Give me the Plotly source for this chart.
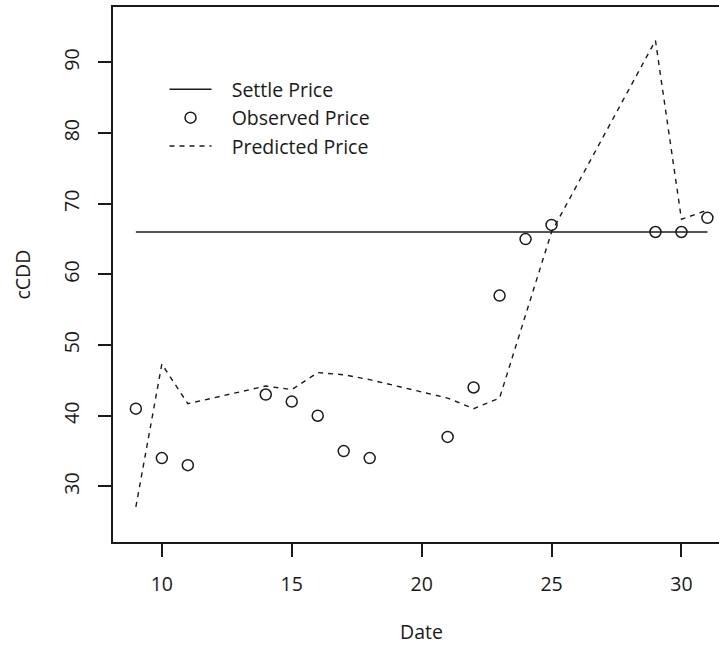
import plotly.graph_objects as go

# ---- data ----
dates = [9, 10, 11, 14, 15, 16, 17, 18, 21, 22, 23, 24, 25, 29, 30, 31]
observed = [41, 34, 33, 43, 42, 40, 35, 34, 37, 44, 57, 65, 67, 66, 66, 68]
predicted = [27.1, 47.3, 41.7, 44.2, 43.7, 46.1, 45.8, 45.1, 42.5, 41.0, 42.5, 54.4, 66.0, 93.1, 67.8, 69.1]
settle_dates = [9, 31]
settle_price = [66, 66]
x_ticks = [10, 15, 20, 25, 30]
y_ticks = [30, 40, 50, 60, 70, 80, 90]
legend_names = ["Settle Price", "Observed Price", "Predicted Price"]

FONT = "Open Sans"
INK = "#1a1a1a"
FS = 19.5
PAD = "\u00a0\u00a0\u00a0"

fig = go.Figure()
fig.add_trace(go.Scatter(x=settle_dates, y=settle_price, mode="lines", name=PAD + legend_names[0],
                         line=dict(color=INK, width=1.4)))
fig.add_trace(go.Scatter(x=dates, y=observed, mode="markers", name=PAD + legend_names[1],
                         marker=dict(symbol="circle-open", size=11, color=INK, line=dict(width=1.5, color=INK))))
fig.add_trace(go.Scatter(x=dates, y=predicted, mode="lines", name=PAD + legend_names[2],
                         line=dict(color=INK, width=1.4, dash="5px,5px")))

W, H = 719, 648
ml, mr, mt, mb = 113, 0, 7, 106
pw = W - ml - mr
ph = H - mt - mb
ppu = 25.98  # pixels per date unit
x0 = 8.12
x1 = x0 + pw / ppu

fig.update_layout(
    width=W, height=H,
    margin=dict(l=ml, r=mr, t=mt, b=mb, pad=0),
    paper_bgcolor="white", plot_bgcolor="white",
    font=dict(family=FONT, size=FS, color=INK),
    showlegend=True,
    legend=dict(x=0.085, y=0.882, xanchor="left", yanchor="top", bgcolor="rgba(0,0,0,0)",
                font=dict(family=FONT, size=FS, color=INK), itemwidth=42, tracegroupgap=0),
    xaxis=dict(range=[x0, x1], tickvals=x_ticks, ticktext=[str(v) for v in x_ticks],
               showgrid=False, zeroline=False, showline=True, linecolor=INK, linewidth=2,
               mirror=True, ticks="outside", ticklen=13, tickwidth=2, tickcolor=INK,
               ticklabelstandoff=11, tickfont=dict(family=FONT, size=FS, color=INK)),
    yaxis=dict(range=[22.13, 97.84], tickvals=y_ticks, ticktext=[str(v) for v in y_ticks],
               showgrid=False, zeroline=False, showline=True, linecolor=INK, linewidth=2,
               mirror=False, ticks="outside", ticklen=13, tickwidth=2, tickcolor=INK,
               tickangle=-90, ticklabelstandoff=11, tickfont=dict(family=FONT, size=FS, color=INK)),
    annotations=[
        dict(text="Date", x=20, xref="x", y=(ph + mt - 647) / ph, yref="paper",
             showarrow=False, xanchor="center", yanchor="bottom",
             font=dict(family=FONT, size=FS, color=INK)),
        dict(text="cCDD", x=(22 - ml) / pw, xref="paper", y=0.5, yref="paper",
             showarrow=False, xanchor="center", yanchor="middle", textangle=-90,
             font=dict(family=FONT, size=FS, color=INK)),
    ],
)

fig.write_html("out.html")
